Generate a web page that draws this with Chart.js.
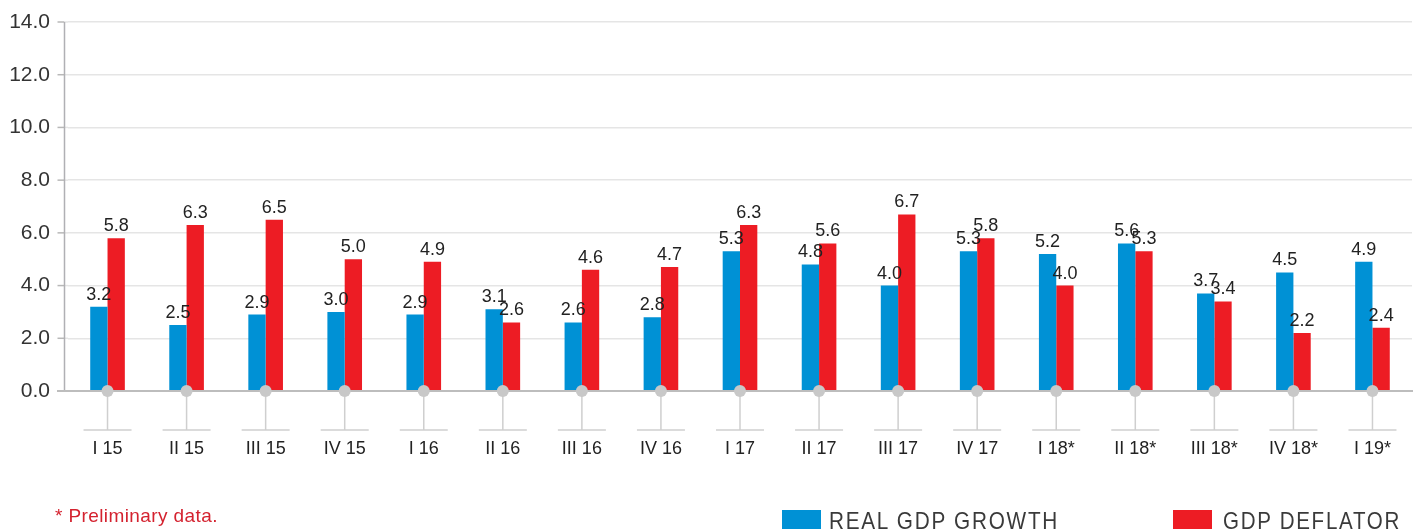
<!DOCTYPE html>
<html>
<head>
<meta charset="utf-8">
<script src="https://cdn.jsdelivr.net/npm/chart.js@4.4.1/dist/chart.umd.min.js"></script>
<style>
  html, body { margin: 0; padding: 0; background: #fff; }
  #wrap { position: relative; width: 1413px; height: 529px; overflow: hidden; }
  #gdpChart { position: absolute; left: 0; top: 0; }
  .note { position: absolute; left: 55px; top: 506px; font: 19px "Liberation Sans", Arial, sans-serif;
          color: #d4222f; letter-spacing: 0.4px; line-height: 1; white-space: nowrap; }
  .leg { position: absolute; top: 509px; font: 24px "Liberation Sans", Arial, sans-serif;
         letter-spacing: 2px; color: #3a3a3a; line-height: 1; white-space: nowrap; transform-origin: 0 0; }
  .box { position: absolute; top: 510px; width: 39px; height: 30px; }
</style>
</head>
<body>
<div id="wrap">
  <canvas id="gdpChart" width="1413" height="529"></canvas>
  <div class="note">* Preliminary data.</div>
  <div class="box" style="left:782px;background:#0091d5"></div>
  <div class="leg" style="left:829px" data-w="230">REAL GDP GROWTH</div>
  <div class="box" style="left:1173px;background:#ed1c24"></div>
  <div class="leg" style="left:1223px" data-w="178">GDP DEFLATOR</div>
</div>
<script>
// Quarters (* = preliminary)
const quarters = ['I 15', 'II 15', 'III 15', 'IV 15', 'I 16', 'II 16', 'III 16', 'IV 16',
                  'I 17', 'II 17', 'III 17', 'IV 17', 'I 18*', 'II 18*', 'III 18*', 'IV 18*', 'I 19*'];
const realGdpGrowth = [3.2, 2.5, 2.9, 3.0, 2.9, 3.1, 2.6, 2.8, 5.3, 4.8, 4.0, 5.3, 5.2, 5.6, 3.7, 4.5, 4.9];
const gdpDeflator   = [5.8, 6.3, 6.5, 5.0, 4.9, 2.6, 4.6, 4.7, 6.3, 5.6, 6.7, 5.8, 4.0, 5.3, 3.4, 2.2, 2.4];
const yMax = 14;
const yStep = 2;

const blue = '#0091d5';
const red = '#ed1c24';

// squeeze legend text to the narrow look of the original
document.querySelectorAll('.leg').forEach(el => {
    const w = el.getBoundingClientRect().width;
    el.style.transform = 'scaleX(' + (Number(el.dataset.w) / w) + ')';
});

// value labels above each bar
const barLabels = {
    id: 'barLabels',
    afterDatasetsDraw(chart) {
        const ctx = chart.ctx;
        ctx.save();
        ctx.font = '18px "Liberation Sans", Arial, sans-serif';
        ctx.fillStyle = '#222';
        ctx.textAlign = 'center';
        ctx.textBaseline = 'alphabetic';
        chart.data.datasets.forEach((ds, i) => {
            chart.getDatasetMeta(i).data.forEach((bar, j) => {
                ctx.fillText(ds.data[j].toFixed(1), bar.x, bar.y - 7);
            });
        });
        ctx.restore();
    }
};

// y axis line, tick marks, zero line and the little "pins" under each quarter
const axisDecor = {
    id: 'axisDecor',
    beforeDatasetsDraw(chart) {
        const { ctx, chartArea: a, scales: { y } } = chart;
        const axisX = a.left - 3.5;
        ctx.save();
        ctx.lineWidth = 1.5;
        y.ticks.forEach(t => {
            const py = y.getPixelForValue(t.value);
            ctx.strokeStyle = '#b8b8b8';
            ctx.beginPath();
            ctx.moveTo(axisX - 7, py);
            ctx.lineTo(axisX, py);
            ctx.stroke();
            ctx.strokeStyle = '#e5e5e5';
            ctx.beginPath();
            ctx.moveTo(axisX, py);
            ctx.lineTo(a.left, py);
            ctx.stroke();
        });
        ctx.strokeStyle = '#b0b0b4';
        ctx.beginPath();
        ctx.moveTo(axisX, a.top);
        ctx.lineTo(axisX, a.bottom);
        ctx.stroke();
        ctx.restore();
    },
    afterDatasetsDraw(chart) {
        const { ctx, chartArea: a, scales: { x, y } } = chart;
        const base = y.getPixelForValue(0);
        ctx.save();
        ctx.strokeStyle = '#bdbdbd';
        ctx.lineWidth = 2;
        ctx.beginPath();
        ctx.moveTo(a.left - 11, base);
        ctx.lineTo(a.right + 2, base);
        ctx.stroke();

        quarters.forEach((q, i) => {
            const px = x.getPixelForValue(i);
            ctx.strokeStyle = '#cfcfcf';
            ctx.lineWidth = 1.5;
            ctx.beginPath();
            ctx.moveTo(px, base);
            ctx.lineTo(px, base + 39);
            ctx.moveTo(px - 24, base + 39);
            ctx.lineTo(px + 24, base + 39);
            ctx.stroke();
            ctx.fillStyle = '#c8c8c8';
            ctx.beginPath();
            ctx.arc(px, base, 6, 0, Math.PI * 2);
            ctx.fill();
        });
        ctx.restore();
    }
};

new Chart(document.getElementById('gdpChart'), {
    type: 'bar',
    data: {
        labels: quarters,
        datasets: [
            { label: 'REAL GDP GROWTH', data: realGdpGrowth, backgroundColor: blue,
              barPercentage: 1, categoryPercentage: 0.438 },
            { label: 'GDP DEFLATOR', data: gdpDeflator, backgroundColor: red,
              barPercentage: 1, categoryPercentage: 0.438 }
        ]
    },
    options: {
        responsive: false,
        animation: false,
        layout: { padding: { top: 22, left: 0, right: 1, bottom: 0 } },
        plugins: {
            legend: { display: false },
            tooltip: { enabled: false }
        },
        scales: {
            x: {
                offset: true,
                grid: { display: false, drawTicks: false },
                border: { display: false },
                ticks: {
                    color: '#222',
                    font: { family: '"Liberation Sans", Arial, sans-serif', size: 18 },
                    padding: 47,
                    maxRotation: 0,
                    autoSkip: false
                },
                afterFit: s => { s.height = 138; s.paddingLeft = 0; s.paddingRight = 0; }
            },
            y: {
                min: 0,
                max: yMax,
                ticks: {
                    stepSize: yStep,
                    color: '#333',
                    font: { family: '"Liberation Sans", Arial, sans-serif', size: 21 },
                    padding: 18,
                    callback: v => v.toFixed(1)
                },
                grid: {
                    drawTicks: false,
                    color: '#e5e5e5',
                    lineWidth: 1.5
                },
                border: { display: false },
                afterFit: s => { s.width = 68; s.paddingTop = 0; s.paddingBottom = 0; }
            }
        }
    },
    plugins: [barLabels, axisDecor]
});
</script>
</body>
</html>
